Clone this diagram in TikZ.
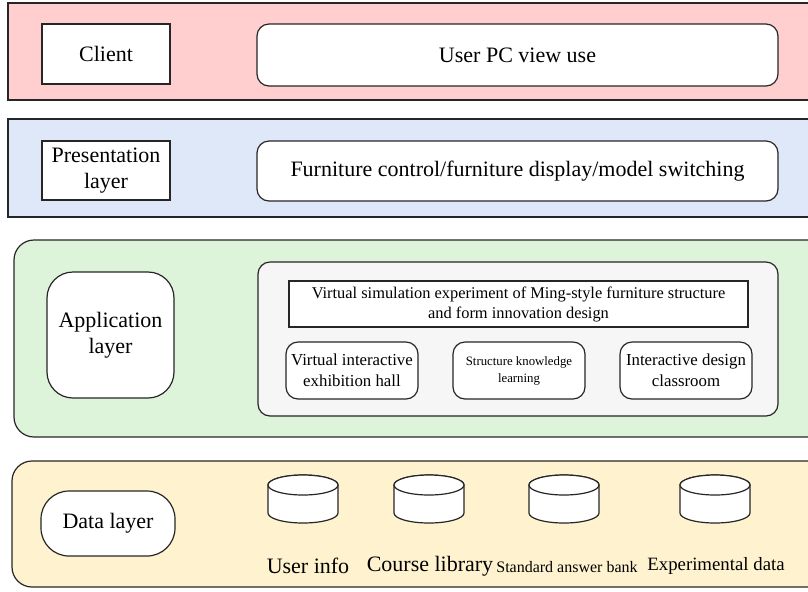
\documentclass[tikz,border=0pt]{standalone}
\usepackage{fontspec}
\setmainfont{Liberation Serif}
\definecolor{bandred}{RGB}{255,206,206}
\definecolor{bandblue}{RGB}{222,232,248}
\definecolor{bandgreen}{RGB}{222,244,218}
\definecolor{bandyellow}{RGB}{255,243,207}
\definecolor{panelgray}{RGB}{246,246,246}
\tikzset{
    band/.style={draw=black!85, line width=0.6pt},
    plainbox/.style={draw=black!85, fill=white, line width=0.6pt, align=center, inner sep=0pt},
    roundbox/.style={plainbox, rounded corners=6pt},
    storeline/.style={draw=black!85, fill=white, line width=0.6pt},
}
\begin{document}
\begin{tikzpicture}[x=0.5pt,y=-0.5pt,font=\fontsize{11}{13}\selectfont]
    \useasboundingbox (0,0) rectangle (808,591);
    % Client %
    \draw[band,fill=bandred] (8,3) rectangle (820,100);
    \node[plainbox, minimum width=64pt, minimum height=30pt] (client) at (106,54) {Client};
    \node[roundbox, minimum width=260.5pt, minimum height=31pt] (userpc) at (517.5,55) {User PC view use};

    % Presentation %
    \draw[band,fill=bandblue] (8,119) rectangle (820,217);
    \node[plainbox, minimum width=64pt, minimum height=29.5pt] (present) at (106,170.5) {Presentation\\layer};
    \node[roundbox, minimum width=260.5pt, minimum height=30pt] (control) at (517.5,171) {Furniture control/furniture display/model switching};

    % Application %
    \draw[band,fill=bandgreen,rounded corners=10pt] (14,240) rectangle (830,437);
    \node[plainbox, rounded corners=13pt, minimum width=63.5pt, minimum height=63pt] (app) at (110.5,335) {Application\\layer};
    \node[roundbox, fill=panelgray, minimum width=260pt, minimum height=77pt] (panel) at (518,339) {};
    \node[plainbox, minimum width=229.5pt, minimum height=23pt, font=\fontsize{8.2}{10}\selectfont] (virtual) at (518.5,304)
        {Virtual simulation experiment of Ming-style furniture structure\\and form innovation design};
    \node[roundbox, minimum width=66pt, minimum height=28.5pt, font=\fontsize{8.4}{10.5}\selectfont] (hall) at (352,370.5) {Virtual interactive\\exhibition hall};
    \node[roundbox, minimum width=66pt, minimum height=28.5pt, font=\fontsize{6.4}{8.5}\selectfont] (learning) at (519,370.5) {Structure knowledge\\learning};
    \node[roundbox, minimum width=66pt, minimum height=28.5pt, font=\fontsize{8.4}{10.5}\selectfont] (classroom) at (686,370.5) {Interactive design\\classroom};

    % Data %
    \draw[band,fill=bandyellow,rounded corners=10pt] (12,461) rectangle (830,587);
    \node[plainbox, rounded corners=14pt, minimum width=67pt, minimum height=32.5pt] (data) at (108,523.5) {Data layer};
    \foreach \cx/\nm in {303/userdb,429/coursedb,564/answerdb,715/expdb}{
        \coordinate (\nm) at (\cx,499);
        \draw[storeline] (\cx-35,485) -- (\cx-35,513) arc(180:0:35 and 10) -- (\cx+35,485) arc(0:-180:35 and 10) -- cycle;
        \draw[storeline] (\cx,485) ellipse (35 and 10);
    }
    \node (userlbl) at (308,566) {User info};
    \node (courselbl) at (430,566) {Course library};
    \node[font=\fontsize{8}{10}\selectfont] (answerlbl) at (567,567) {Standard answer bank};
    \node[font=\fontsize{9.4}{11}\selectfont] (explbl) at (716,566) {Experimental data};
\end{tikzpicture}
\end{document}
